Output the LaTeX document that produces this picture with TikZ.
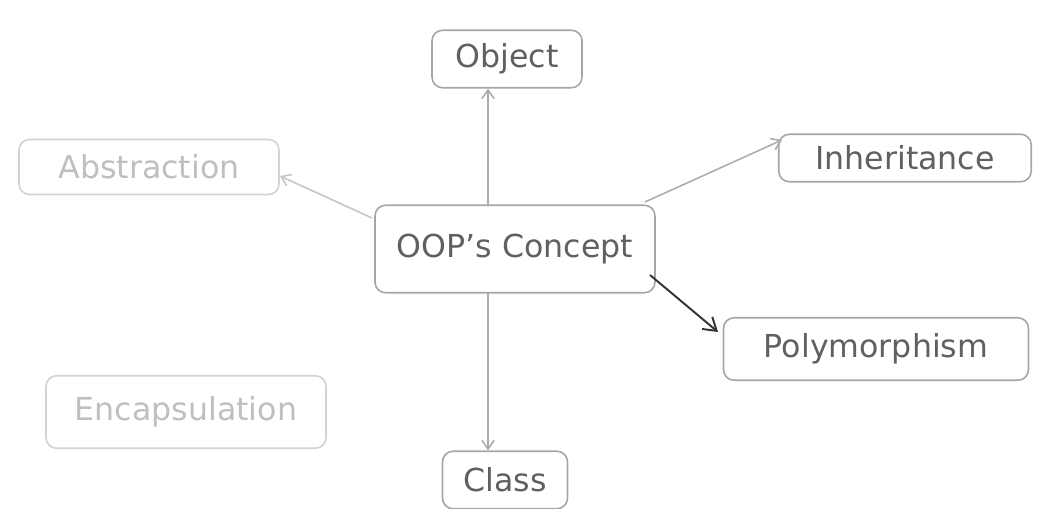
\documentclass[tikz,border=0pt]{standalone}
\usepackage{fontspec}
\setmainfont{DejaVu Sans}
\usetikzlibrary{arrows.meta}
\begin{document}
\begin{tikzpicture}[x=0.02cm,y=-0.02cm,
  box/.style={draw=gray!70, line width=0.9pt, rounded corners=6pt, inner sep=0pt,
    text=gray!75!black, font=\fontsize{18}{20}\selectfont},
  faint/.style={draw=gray!35, text=gray!50},
  link/.style={draw=gray!65, line width=0.9pt, -{Straight Barb[length=5pt,width=7pt]}},
  dark/.style={draw=gray!40!black, line width=1.1pt, -{Straight Barb[length=7pt,width=9pt]}}]
\useasboundingbox (0,0) rectangle (1055,509);
\node[box, minimum width=3.0cm, minimum height=1.15cm] (obj) at (507,59) {Object};
\node[box, faint, minimum width=5.2cm, minimum height=1.1cm] (abs) at (149,167) {Abstraction};
\node[box, minimum width=5.05cm, minimum height=0.95cm] (inh) at (905,158) {Inheritance};
\node[box, minimum width=5.6cm, minimum height=1.75cm] (oop) at (515,249) {OOP's Concept};
\node[box, minimum width=6.1cm, minimum height=1.25cm] (poly) at (876,349) {Polymorphism};
\node[box, faint, minimum width=5.6cm, minimum height=1.45cm] (enc) at (186,412) {Encapsulation};
\node[box, minimum width=2.5cm, minimum height=1.15cm] (cls) at (505,480) {Class};
\coordinate (o1) at (488,206);
\coordinate (o2) at (488,292);
\coordinate (oa) at (372,218);
\coordinate (ai) at (280,176);
\coordinate (oi) at (645,202);
\coordinate (ii) at (782,140);
\coordinate (op) at (650,275);
\coordinate (pp) at (718,332);
\draw[link] (o1) -- (obj.south -| o1);
\draw[link] (o2) -- (cls.north -| o2);
\draw[link, draw=gray!45] (oa) -- (ai);
\draw[link] (oi) -- (ii);
\draw[dark] (op) -- (pp);
\end{tikzpicture}
\end{document}
